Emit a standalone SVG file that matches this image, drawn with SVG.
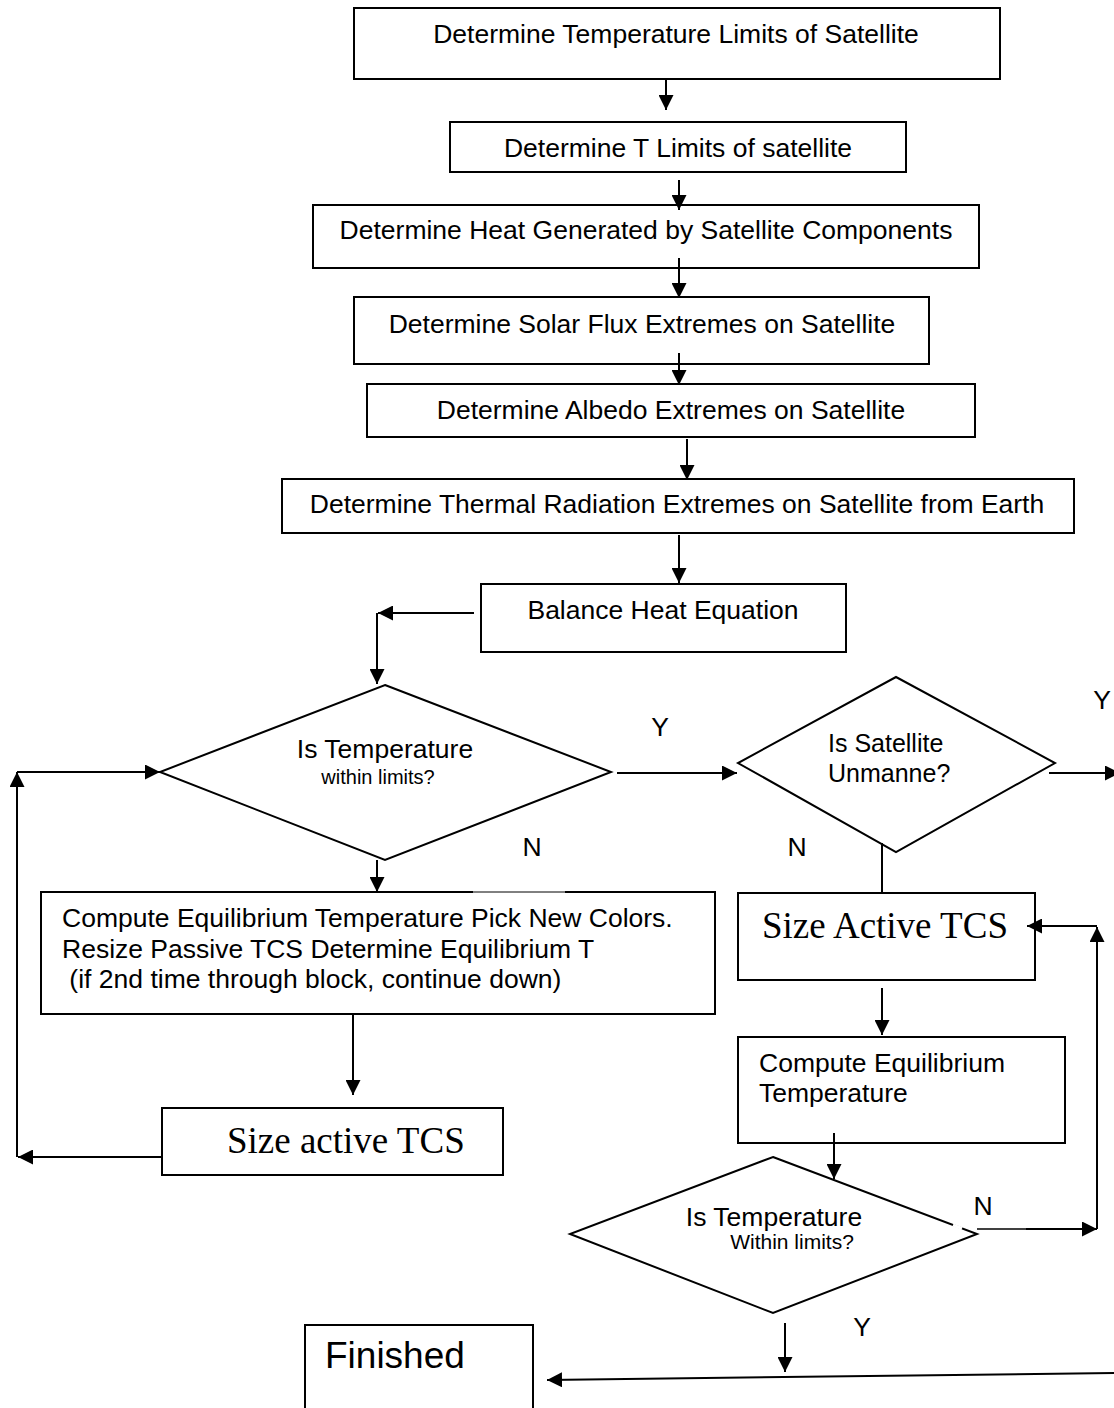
<svg xmlns="http://www.w3.org/2000/svg" width="1114" height="1408" viewBox="0 0 1114 1408">
<style>
.b{fill:#fff;stroke:#000;stroke-width:2}
.t{font-family:"Liberation Sans",Arial,sans-serif;font-size:26.5px;fill:#000}
.tm{font-family:"Liberation Serif","Times New Roman",serif;font-size:37px;fill:#000}
.c{text-anchor:middle}
.l{fill:none;stroke:#000;stroke-width:2}
.a{marker-end:url(#ah)}
</style>
<defs>
<marker id="ah" markerUnits="userSpaceOnUse" markerWidth="15" markerHeight="15" refX="14" refY="7" orient="auto" viewBox="0 0 14 14">
<path d="M0,0 L14,7 L0,14 z" fill="#000"/>
</marker>
</defs>
<rect width="1114" height="1408" fill="#fff"/>

<g id="n1"><rect class="b" x="354" y="8" width="646" height="71"/><text class="t c" x="676" y="43">Determine Temperature Limits of Satellite</text></g>
<g id="n2"><rect class="b" x="450" y="122" width="456" height="50"/><text class="t c" x="678" y="157">Determine T Limits of satellite</text></g>
<g id="n3"><rect class="b" x="313" y="205" width="666" height="63"/><text class="t c" x="646" y="239">Determine Heat Generated by Satellite Components</text></g>
<g id="n4"><rect class="b" x="354" y="297" width="575" height="67"/><text class="t c" x="642" y="333">Determine Solar Flux Extremes on Satellite</text></g>
<g id="n5"><rect class="b" x="367" y="384" width="608" height="53"/><text class="t c" x="671" y="419">Determine Albedo Extremes on Satellite</text></g>
<g id="n6"><rect class="b" x="282" y="479" width="792" height="54"/><text class="t c" x="677" y="513">Determine Thermal Radiation Extremes on Satellite from Earth</text></g>
<g id="n7"><rect class="b" x="481" y="584" width="365" height="68"/><text class="t c" x="663" y="619">Balance Heat Equation</text></g>

<g id="d1"><polygon class="b" points="385,685 611,772 385,860 160,772"/>
<text class="t c" x="385" y="758">Is Temperature</text>
<text class="t c" x="378" y="784" style="font-size:20px">within limits?</text></g>

<g id="d2"><polygon class="b" points="896,677 1055,763 896,852 738,763"/>
<text class="t" x="828" y="752" style="font-size:25px">Is Satellite</text>
<text class="t" x="828" y="782" style="font-size:25px">Unmanne?</text></g>

<g id="n8">
<rect x="41" y="892" width="674" height="122" fill="#fff"/>
<path class="l" d="M473,892 H41 V1014 H715 V892 H565"/>
<path fill="none" stroke="#000" stroke-width="1" d="M473,892 H565"/>
<text class="t" x="62" y="927">Compute Equilibrium Temperature Pick New Colors.</text>
<text class="t" x="62" y="958">Resize Passive TCS Determine Equilibrium T</text>
<text class="t" x="62" y="988" xml:space="preserve"> (if 2nd time through block, continue down)</text>
</g>

<g id="n9"><rect class="b" x="162" y="1108" width="341" height="67"/><text class="tm" x="227" y="1153">Size active TCS</text></g>

<g id="n10"><rect class="b" x="738" y="893" width="297" height="87"/><text class="tm" x="762" y="938">Size Active TCS</text></g>

<g id="n11"><rect class="b" x="738" y="1037" width="327" height="106"/>
<text class="t" x="759" y="1072">Compute Equilibrium</text>
<text class="t" x="759" y="1102">Temperature</text></g>

<g id="d3"><polygon class="b" points="773,1157 977,1234 773,1313 570,1234"/>
<line x1="953" y1="1225" x2="962" y2="1228.5" stroke="#fff" stroke-width="3"/>
<text class="t c" x="774" y="1226">Is Temperature</text>
<text class="t c" x="792" y="1249" style="font-size:21px">Within limits?</text></g>

<g id="n12"><rect class="b" x="305" y="1325" width="228" height="100"/><text class="t" x="325" y="1368" style="font-size:37px">Finished</text></g>

<g id="connectors">
<path class="l a" d="M666,79 V110"/>
<path class="l a" d="M679,180 V210"/>
<path class="l a" d="M679,258 V298"/>
<path class="l a" d="M679,353 V385"/>
<path class="l a" d="M687,439 V480"/>
<path class="l a" d="M679,535 V583"/>
<path class="l a" d="M474,613 H378"/>
<path class="l a" d="M377,613 V684"/>
<path class="l a" d="M617,773 H737"/>
<path class="l a" d="M377,860 V892"/>
<path class="l a" d="M353,1014 V1095"/>
<path class="l a" d="M162,1157 H18"/>
<path class="l a" d="M17,1157 V772"/>
<path class="l a" d="M17,772 H160"/>
<path class="l a" d="M1049,773 H1120"/>
<path class="l" d="M882,843 V893"/>
<path class="l a" d="M882,988 V1035"/>
<path class="l a" d="M834,1133 V1179"/>
<path fill="none" stroke="#000" stroke-width="1.3" d="M977,1229 H1026"/>
<path class="l a" d="M1026,1229 H1097"/>
<path class="l a" d="M1097,1229 V927"/>
<path class="l a" d="M1097,926 H1027"/>
<path class="l a" d="M785,1323 V1372"/>
<path class="l a" d="M1114,1373 L547,1380"/>
<text class="t c" x="660" y="736">Y</text>
<text class="t c" x="532" y="856">N</text>
<text class="t c" x="1102" y="709">Y</text>
<text class="t c" x="797" y="856">N</text>
<text class="t c" x="983" y="1215">N</text>
<text class="t c" x="862" y="1336">Y</text>
</g>
</svg>
